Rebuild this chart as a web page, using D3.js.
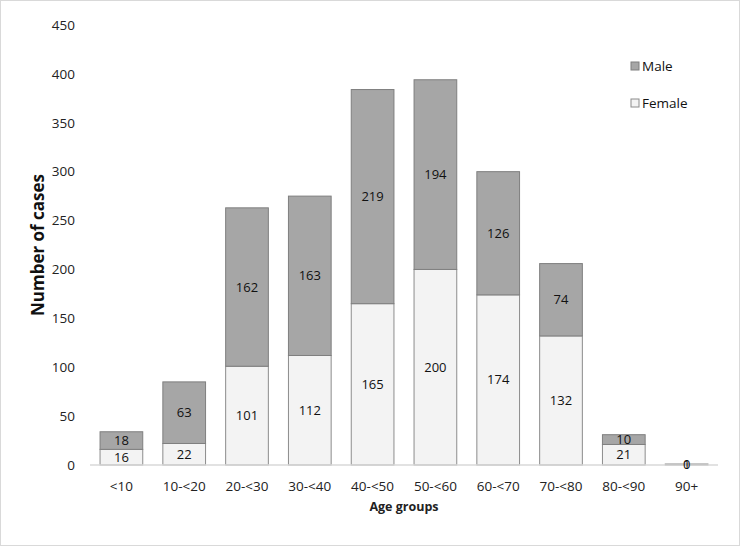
<!DOCTYPE html>
<html><head><meta charset="utf-8">
<script src="https://cdn.jsdelivr.net/npm/d3@7"></script>
<style>body{margin:0;background:#fff}svg{display:block;font-family:"Open Sans","Liberation Sans",sans-serif}</style>
</head><body><svg id="c" width="740" height="546"></svg>
<script>
const categories = ["<10","10-<20","20-<30","30-<40","40-<50","50-<60","60-<70","70-<80","80-<90","90+"];
const female = [16,22,101,112,165,200,174,132,21,1];
const male = [18,63,162,163,219,194,126,74,10,0];
const yTicks = [0,50,100,150,200,250,300,350,400,450];
const seriesNames = ["Female","Male"];

const svg = d3.select("#c");
svg.append("rect").attr("x",0.5).attr("y",0.5).attr("width",739).attr("height",545).attr("fill","#fff").attr("stroke","#d9d9d9");

const x = d3.scaleBand().domain(categories).range([90,718]).paddingInner(0.32).paddingOuter(0.16);
const y = d3.scaleLinear().domain([0,450]).range([465,25]);

const rows = categories.map((c,i)=>({cat:c, Female:female[i], Male:male[i]}));
const stacked = d3.stack().keys(seriesNames)(rows);
const fills = {Female:"#f3f3f3", Male:"#a6a6a6"};
const strokes = {Female:"#8c8c8c", Male:"#7f7f7f"};

// y tick labels
svg.append("g").selectAll("text").data(yTicks).join("text")
  .attr("x",75).attr("y",d=>y(d)).attr("dy","0.35em").attr("text-anchor","end")
  .attr("font-size",13.5).attr("fill","#222").text(d=>d);

// bars
stacked.forEach(s=>{
  const g = svg.append("g");
  g.selectAll("rect").data(s).join("rect")
    .attr("x",d=>x(d.data.cat)).attr("width",x.bandwidth())
    .attr("y",d=>y(d[1])).attr("height",d=>Math.max(0,y(d[0])-y(d[1])))
    .attr("fill",fills[s.key]).attr("stroke",strokes[s.key]).attr("stroke-width",1);
});

// x axis line
svg.append("line").attr("x1",90).attr("x2",718).attr("y1",y(0)).attr("y2",y(0)).attr("stroke","#d9d9d9").attr("stroke-width",1.5);

// labels
stacked.forEach(s=>{
  svg.append("g").selectAll("text").data(s).join("text")
    .attr("x",d=>x(d.data.cat)+x.bandwidth()/2)
    .attr("y",d=>(y(d[0])+y(d[1]))/2).attr("dy","0.35em")
    .attr("text-anchor","middle").attr("font-size",13).attr("fill","#111")
    .text(d=>d.data[s.key]);
});

// x tick labels
svg.append("g").selectAll("text").data(categories).join("text")
  .attr("x",d=>x(d)+x.bandwidth()/2).attr("y",486).attr("dy","0.35em")
  .attr("text-anchor","middle").attr("font-size",13.5).attr("fill","#222").text(d=>d);

// axis titles
svg.append("text").attr("x",404).attr("y",507).attr("dy","0.35em").attr("text-anchor","middle")
  .attr("font-size",12.5).attr("font-weight","bold").attr("fill","#222").text("Age groups");
svg.append("text").attr("transform","translate(38,245) rotate(-90)").attr("dy","0.35em").attr("text-anchor","middle")
  .attr("font-size",17).attr("font-weight","bold").attr("fill","#111").text("Number of cases");

// legend
const legend = [{k:"Male",y:66},{k:"Female",y:103}];
const lg = svg.append("g");
legend.forEach(l=>{
  lg.append("rect").attr("x",631).attr("y",l.y-4).attr("width",8).attr("height",8)
    .attr("fill",fills[l.k]).attr("stroke",strokes[l.k]);
  lg.append("text").attr("x",642).attr("y",l.y).attr("dy","0.35em").attr("font-size",13.5).attr("fill","#111").text(l.k);
});
</script></body></html>
